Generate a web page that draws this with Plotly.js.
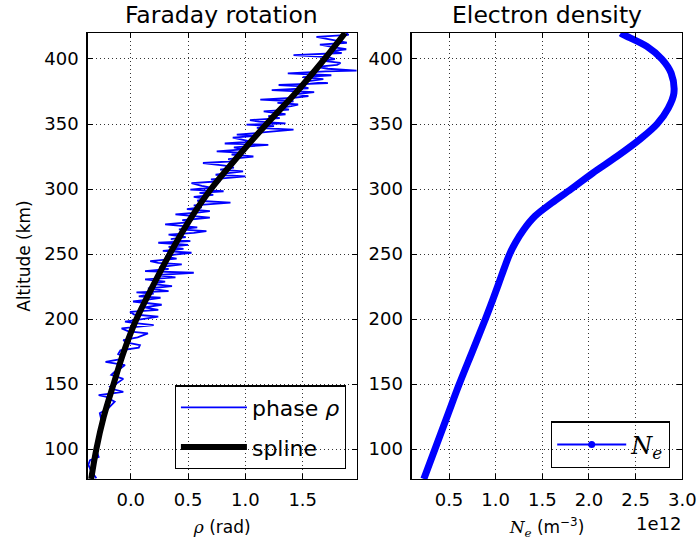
<!DOCTYPE html>
<html><head><meta charset="utf-8">
<script src="https://cdn.plot.ly/plotly-3.0.1.min.js"></script>
<style>html,body{margin:0;padding:0;background:#fff}#chart{width:698px;height:548px}</style>
</head><body><div id="chart"></div>
<script>
// ---- Faraday rotation: measured phase (noisy) ----
var phaseAlt = [77.5,84,88,91.5,94,99,104,112,120,127.6,
131,136.5,140.4,141.5,144,146,148,150,154,157,
159.5,162,164.6,167,169,171,173,176,178,180,
182,183.8,186,189,190.5,192.8,195.4,197,198,200,
201.8,203.5,205.6,207,209,211,213.5,215,216.4,217.5,
219.5,220.5,221.5,223.5,225.3,227,228.8,230.5,232,233.8,
235.6,236.8,238.5,240,242,243.2,244.5,246.5,248,249.5,
251,252.5,254,255.5,257,258.7,260,261.5,263,265,
266.3,267.6,269,270.5,272.8,274.5,276,278,279.3,280.5,
282,283,284.5,286,287.5,289.5,291,292.5,294,295.5,
297,298.3,299.5,301,302.5,304.6,306,307.5,309.7,311,
312.3,313.6,315,316.5,318,320,321.5,323,325,326.5,
328,329,330.5,332,334,335,336.5,338,339.5,341,
341.8,343.5,345.7,347,348.3,349.5,350.5,351.8,353,354.5,
356,357.5,359.7,361,362.5,363.8,365,366.3,367.5,368.7,
370,371.5,373,374.5,376,377.5,379,380,381.5,383,
384.5,386,387.5,389,390.5,391,392.5,394,395.5,397,
398.5,400,401.5,403,404.6,406,407.5,409,411,412.5,
414,415.5,417,418.5,420];
var phaseRho = [-0.30,-0.35,-0.37,-0.355,-0.28,-0.30,-0.29,-0.27,-0.25,-0.27,
-0.20,-0.14,-0.22,-0.28,-0.065,-0.15,-0.18,-0.13,-0.065,-0.17,
-0.14,-0.09,-0.05,-0.22,-0.10,-0.06,-0.11,-0.09,0.07,0.08,
-0.04,-0.065,0.06,0.15,-0.02,-0.08,0.20,0.02,-0.05,0.10,
0.24,0.03,-0.006,0.24,0.12,0.27,0.02,0.15,0.26,0.07,
0.20,0.05,0.33,0.15,0.36,0.18,0.30,0.125,0.39,0.22,
0.55,0.125,0.33,0.25,0.445,0.24,0.17,0.40,0.30,0.38,
0.53,0.28,0.46,0.33,0.50,0.24,0.52,0.35,0.48,0.33,
0.55,0.66,0.42,0.58,0.30,0.52,0.45,0.69,0.50,0.39,
0.60,0.69,0.49,0.62,0.55,0.87,0.58,0.66,0.55,0.72,
0.60,0.81,0.52,0.70,0.62,0.53,0.78,0.70,1.00,0.74,
0.85,0.98,0.78,0.90,0.82,0.63,0.92,0.85,1.07,0.88,
0.95,0.75,0.98,0.90,1.20,0.82,1.05,0.98,0.89,1.10,
0.925,1.15,1.42,1.10,1.25,1.01,1.35,1.12,1.04,1.30,
1.20,1.35,1.16,1.38,1.30,1.40,1.46,1.28,1.42,1.13,
1.40,1.55,1.45,1.60,1.23,1.55,1.50,1.29,1.72,1.55,
1.68,1.50,1.75,1.37,1.70,1.97,1.72,1.62,1.80,1.83,
1.68,1.78,1.72,1.42,1.84,1.75,1.88,1.78,1.65,1.885,
1.80,1.70,1.62,1.90,1.88];

// ---- Faraday rotation: spline fit ----
var splineAlt = [77,100,125,150,175,200,225,250,275,300,325,350,375,400,420];
var splineRho = [-0.345,-0.30,-0.235,-0.15,-0.06,0.05,0.19,0.34,0.505,0.70,0.935,1.185,1.45,1.69,1.87];

// ---- Electron density ----
var neAlt = [77,100,127,150,175,200,215,232.8,250,258.5,268.7,279,289.2,300,312.3,325.1,338.5,350,362.3,373.8,389.2,400,409.7,418.7,420];
var neVal = [0.23e12,0.35e12,0.49e12,0.61e12,0.75e12,0.89e12,0.97e12,1.06e12,1.15e12,1.21e12,1.30e12,1.42e12,1.60e12,1.81e12,2.04e12,2.30e12,2.55e12,2.73e12,2.85e12,2.91e12,2.88e12,2.78e12,2.62e12,2.37e12,2.34e12];

// ---- ticks ----
var altTicks = [100,150,200,250,300,350,400];
var rhoTicks = [0.0,0.5,1.0,1.5];
var neTicks = [0.5e12,1.0e12,1.5e12,2.0e12,2.5e12,3.0e12];
var neTickText = ['0.5','1.0','1.5','2.0','2.5','3.0'];

var FONT = 'DejaVu Sans, Bitstream Vera Sans, sans-serif';
var SERIF = 'DejaVu Serif, serif';

function axisBase() {
  return {
    showline: true, linecolor: '#000', linewidth: 1.2, mirror: 'ticks',
    ticks: 'inside', ticklen: 5, tickwidth: 1, tickcolor: '#000',
    showgrid: true, gridcolor: '#000', gridwidth: 0.8, griddash: '1px,3px',
    zeroline: false, tickfont: {family: FONT, size: 18, color: '#000'}
  };
}

var xa = Object.assign(axisBase(), {
  domain: [0.1254, 0.5115], range: [-0.377, 1.974],
  tickvals: rhoTicks, tickformat: '.1f', ticklabelstandoff: 4,
  title: {text: '<span style="font-family:DejaVu Serif"><i>ρ</i></span> (rad)', font: {family: FONT, size: 17, color: '#000'}, standoff: 12},
  anchor: 'y'
});
var ya = Object.assign(axisBase(), {
  domain: [0.1259, 0.9398], range: [77, 420], tickvals: altTicks, ticklabelstandoff: 4,
  title: {text: 'Altitude (km)', font: {family: FONT, size: 17, color: '#000'}, standoff: 9},
  anchor: 'x'
});
var xa2 = Object.assign(axisBase(), {
  domain: [0.5898, 0.9775], range: [0.1e12, 3.0e12],
  tickvals: neTicks, ticktext: neTickText, ticklabelstandoff: 4,
  title: {text: '<span style="font-family:DejaVu Serif"><i>N<sub>e</sub></i></span> (m<sup>−3</sup>)', font: {family: FONT, size: 17, color: '#000'}, standoff: 12},
  anchor: 'y2'
});
var ya2 = Object.assign(axisBase(), {
  domain: [0.1259, 0.9398], range: [77, 420], tickvals: altTicks, ticklabelstandoff: 4,
  anchor: 'x2'
});

var traces = [
  {x: phaseRho, y: phaseAlt, type: 'scatter', mode: 'lines', name: 'phase <i>ρ</i>',
   line: {color: '#0000ff', width: 1.8}, xaxis: 'x', yaxis: 'y', legend: 'legend', legendgroup: 'a'},
  {x: splineRho, y: splineAlt, type: 'scatter', mode: 'lines', name: 'spline',
   line: {color: '#000000', width: 6, shape: 'spline'}, xaxis: 'x', yaxis: 'y', legend: 'legend', legendgroup: 'b'},
  {x: neVal, y: neAlt, type: 'scatter', mode: 'lines', name: 'Ne',
   line: {color: '#0000ff', width: 7, shape: 'spline', smoothing: 1}, xaxis: 'x2', yaxis: 'y2', showlegend: false},
  {x: [null], y: [null], type: 'scatter', mode: 'lines+markers', name: '<i>N<sub>e</sub></i>',
   line: {color: '#0000ff', width: 2}, marker: {color: '#0000ff', size: 7},
   xaxis: 'x2', yaxis: 'y2', legend: 'legend2', showlegend: true}
];

var layout = {
  width: 698, height: 548,
  margin: {l: 0, r: 0, t: 0, b: 0},
  paper_bgcolor: '#fff', plot_bgcolor: '#fff',
  font: {family: FONT, color: '#000'},
  xaxis: xa, yaxis: ya, xaxis2: xa2, yaxis2: ya2,
  legend: {x: 0.4953, xanchor: 'right', y: 0.1436, yanchor: 'bottom',
    bgcolor: 'rgba(0,0,0,0)', bordercolor: '#000', borderwidth: 1.2, itemwidth: 66,
    font: {family: FONT, size: 22, color: '#000'}, traceorder: 'grouped', tracegroupgap: 8},
  legend2: {x: 0.9599, xanchor: 'right', y: 0.1454, yanchor: 'bottom',
    bgcolor: 'rgba(0,0,0,0)', bordercolor: '#000', borderwidth: 1.2, itemwidth: 69,
    font: {family: SERIF, size: 24, color: '#000'}},
  annotations: [
    {text: 'Faraday rotation', xref: 'paper', yref: 'paper', x: 0.318, y: 0.9726, xanchor: 'center', yanchor: 'middle', showarrow: false, font: {family: FONT, size: 23.5, color: '#000'}},
    {text: 'Electron density', xref: 'paper', yref: 'paper', x: 0.7837, y: 0.9726, xanchor: 'center', yanchor: 'middle', showarrow: false, font: {family: FONT, size: 23.5, color: '#000'}},
    {text: '1e12', xref: 'paper', yref: 'paper', x: 0.978, y: 0.0438, xanchor: 'right', yanchor: 'middle', showarrow: false, font: {family: FONT, size: 18, color: '#000'}}
  ],
  showlegend: true
};

Plotly.newPlot('chart', traces, layout, {staticPlot: true, displayModeBar: false});
</script>
</body></html>
